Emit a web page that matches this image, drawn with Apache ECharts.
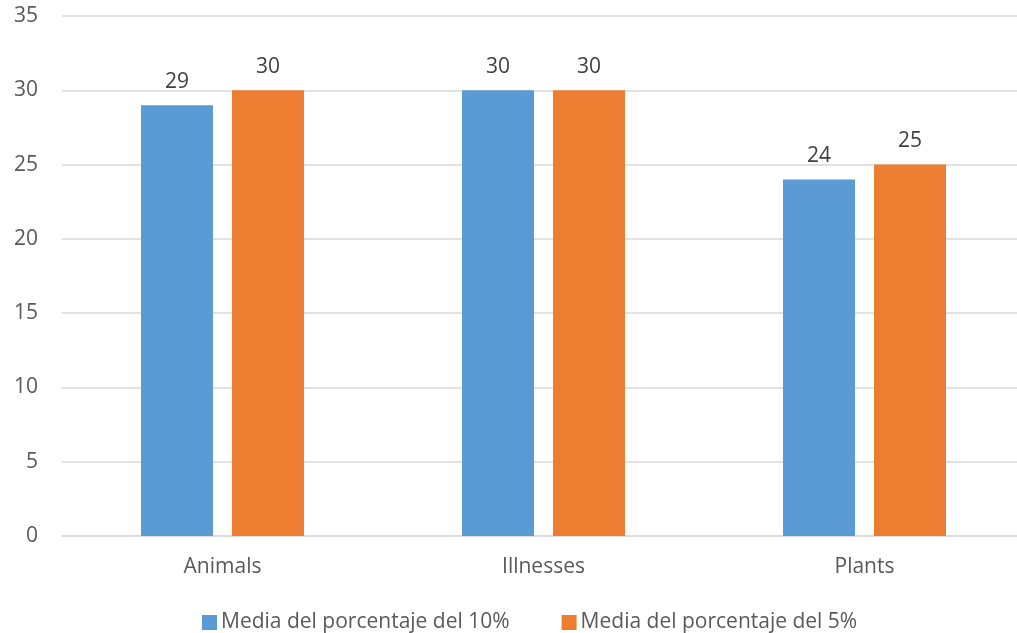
<!DOCTYPE html>
<html><head><meta charset="utf-8">
<script src="https://cdn.jsdelivr.net/npm/echarts@6/dist/echarts.min.js"></script>
<style>html,body{margin:0;padding:0;background:#fff}#c{width:1017px;height:633px}</style>
</head><body><div id="c"></div>
<script>
const categories = ['Animals', 'Illnesses', 'Plants'];
const seriesNames = ['Media del porcentaje del 10%', 'Media del porcentaje del 5%'];
const values10 = [29, 30, 24];
const values5 = [30, 30, 25];
const yMin = 0, yMax = 35, yStep = 5;

const chart = echarts.init(document.getElementById('c'), null, {renderer: 'canvas'});
const font = 'Open Sans, Noto Sans, sans-serif';
chart.setOption({
  animation: false,
  backgroundColor: '#fff',
  grid: {left: 62, width: 963, top: 16, bottom: 97, containLabel: false, outerBoundsMode: 'none'},
  legend: {
    left: 197, top: 607, itemWidth: 15, itemHeight: 15, itemGap: 52,
    icon: 'rect',
    textStyle: {fontFamily: font, fontSize: 21, color: '#595959', padding: [0,0,0,-1]},
    data: seriesNames
  },
  xAxis: {
    type: 'category', data: categories,
    axisLine: {show: true, lineStyle: {color: '#d9d9d9', width: 1.5}},
    axisTick: {show: false},
    axisLabel: {fontFamily: font, fontSize: 21, color: '#595959', margin: 21}
  },
  yAxis: {
    type: 'value', min: yMin, max: yMax, interval: yStep,
    axisLine: {show: false}, axisTick: {show: false},
    splitLine: {lineStyle: {color: '#d9d9d9', width: 1.5}},
    axisLabel: {fontFamily: font, fontSize: 21, color: '#595959', margin: 24}
  },
  series: [
    {name: seriesNames[0], type: 'bar', data: values10, barWidth: 72, barGap: '26.4%',
     itemStyle: {color: '#5B9BD5'},
     label: {show: true, position: 'top', distance: 13, fontFamily: font, fontSize: 21, color: '#404040'}},
    {name: seriesNames[1], type: 'bar', data: values5, barWidth: 72,
     itemStyle: {color: '#ED7D31'},
     label: {show: true, position: 'top', distance: 13, fontFamily: font, fontSize: 21, color: '#404040'}}
  ]
});
</script></body></html>
